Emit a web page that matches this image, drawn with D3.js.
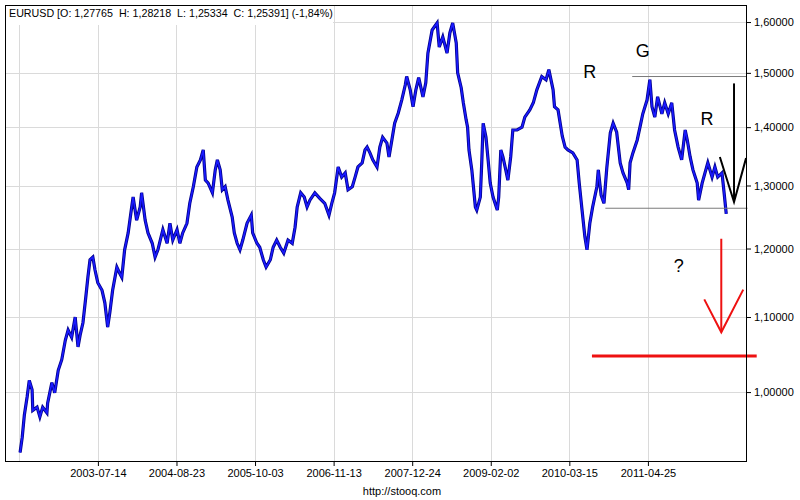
<!DOCTYPE html>
<html>
<head>
<meta charset="utf-8">
<script src="https://cdn.jsdelivr.net/npm/d3@7"></script>
<style>
  body { margin: 0; background: #fff; }
  text { font-family: "Liberation Sans", Arial, sans-serif; }
</style>
</head>
<body>
<div id="chart"></div>
<script>
// decimal year of each sample
const years = [
  2002.43, 2002.46, 2002.49, 2002.53, 2002.56, 2002.60, 2002.61, 2002.67, 2002.71, 2002.75,
  2002.81, 2002.82, 2002.88, 2002.92, 2002.97, 2003.02, 2003.07, 2003.11, 2003.16, 2003.21,
  2003.25, 2003.28, 2003.32, 2003.36, 2003.39, 2003.42, 2003.46, 2003.49, 2003.53, 2003.59,
  2003.63, 2003.67, 2003.70, 2003.74, 2003.80, 2003.84, 2003.87, 2003.91, 2003.96, 2004.01,
  2004.03, 2004.08, 2004.13, 2004.15, 2004.20, 2004.24, 2004.30, 2004.34, 2004.38, 2004.45,
  2004.51, 2004.55, 2004.59, 2004.65, 2004.69, 2004.73, 2004.79, 2004.83, 2004.88, 2004.93,
  2004.98, 2005.02, 2005.05, 2005.09, 2005.15, 2005.19, 2005.22, 2005.26, 2005.29, 2005.33,
  2005.37, 2005.43, 2005.46, 2005.50, 2005.54, 2005.58, 2005.64, 2005.70, 2005.72, 2005.78,
  2005.82, 2005.87, 2005.91, 2005.97, 2006.01, 2006.06, 2006.11, 2006.16, 2006.22, 2006.28,
  2006.32, 2006.35, 2006.40, 2006.45, 2006.49, 2006.53, 2006.60, 2006.67, 2006.74, 2006.80,
  2006.84, 2006.88, 2006.93, 2006.98, 2007.03, 2007.07, 2007.13, 2007.17, 2007.21, 2007.27,
  2007.31, 2007.34, 2007.38, 2007.42, 2007.48, 2007.52, 2007.56, 2007.62, 2007.65, 2007.69,
  2007.73, 2007.78, 2007.83, 2007.88, 2007.90, 2007.95, 2007.99, 2008.03, 2008.07, 2008.13,
  2008.17, 2008.20, 2008.26, 2008.29, 2008.33, 2008.36, 2008.41, 2008.47, 2008.51, 2008.55,
  2008.60, 2008.62, 2008.67, 2008.70, 2008.74, 2008.76, 2008.78, 2008.82, 2008.87, 2008.89,
  2008.94, 2008.96, 2008.98, 2009.02, 2009.05, 2009.08, 2009.12, 2009.18, 2009.20, 2009.23,
  2009.26, 2009.30, 2009.33, 2009.37, 2009.40, 2009.46, 2009.53, 2009.57, 2009.64, 2009.69,
  2009.74, 2009.81,
  2009.87, 2009.91, 2009.97, 2009.99, 2010.04, 2010.10, 2010.14, 2010.18, 2010.25, 2010.31,
  2010.34, 2010.38, 2010.42, 2010.45, 2010.49, 2010.53, 2010.59, 2010.61, 2010.65, 2010.69,
  2010.73, 2010.78, 2010.82, 2010.87, 2010.92, 2010.96, 2011.02, 2011.04, 2011.06, 2011.10,
  2011.16, 2011.20, 2011.24, 2011.30, 2011.34, 2011.37, 2011.41, 2011.45, 2011.51, 2011.55,
  2011.60, 2011.65, 2011.69, 2011.74, 2011.79, 2011.84, 2011.87, 2011.91, 2011.95, 2012.01,
  2012.03, 2012.08, 2012.12, 2012.16, 2012.22, 2012.26, 2012.30, 2012.36, 2012.39, 2012.42
]

// EURUSD close at each sample
const closes = [
  0.926, 0.944, 0.971, 0.994, 1.015, 1.003, 0.977, 0.981, 0.969, 0.981,
  0.974, 0.986, 1.012, 0.999, 1.028, 1.042, 1.068, 1.082, 1.072, 1.100,
  1.059, 1.075, 1.092, 1.128, 1.157, 1.183, 1.187, 1.168, 1.149, 1.138,
  1.120, 1.086, 1.106, 1.138, 1.172, 1.163, 1.157, 1.198, 1.224, 1.265,
  1.281, 1.244, 1.265, 1.288, 1.244, 1.224, 1.208, 1.187, 1.198, 1.229,
  1.208, 1.239, 1.213, 1.229, 1.208, 1.224, 1.239, 1.271, 1.298, 1.331,
  1.343, 1.360, 1.309, 1.304, 1.288, 1.326, 1.343, 1.326, 1.293, 1.298,
  1.276, 1.249, 1.224, 1.208, 1.198, 1.213, 1.239, 1.252, 1.224, 1.208,
  1.202, 1.183, 1.172, 1.183, 1.202, 1.213, 1.202, 1.193, 1.213, 1.208,
  1.233, 1.265, 1.288, 1.281, 1.265, 1.276, 1.288, 1.279, 1.271, 1.252,
  1.271, 1.288, 1.331, 1.314, 1.321, 1.293, 1.298, 1.314, 1.331, 1.338,
  1.360, 1.365, 1.355, 1.343, 1.331, 1.365, 1.382, 1.372, 1.348, 1.377,
  1.407, 1.425, 1.449, 1.477, 1.493, 1.468, 1.437, 1.468, 1.491, 1.455,
  1.481, 1.538, 1.584, 1.590, 1.598, 1.550, 1.570, 1.538, 1.578, 1.598,
  1.558, 1.500, 1.472, 1.444, 1.413, 1.400, 1.360, 1.326, 1.265, 1.260,
  1.281, 1.338, 1.407, 1.382, 1.343, 1.304, 1.281, 1.260, 1.281, 1.360,
  1.348, 1.326, 1.309, 1.348, 1.395, 1.395, 1.400, 1.418, 1.431, 1.444,
  1.468, 1.493,
  1.487, 1.506, 1.468, 1.437, 1.431, 1.384, 1.365, 1.360, 1.355, 1.343,
  1.304, 1.260, 1.218, 1.198, 1.239, 1.265, 1.298, 1.326, 1.284, 1.271,
  1.329, 1.390, 1.407, 1.391, 1.338, 1.321, 1.304, 1.293, 1.338, 1.355,
  1.377, 1.400, 1.424, 1.449, 1.487, 1.437, 1.418, 1.455, 1.424, 1.444,
  1.424, 1.444, 1.395, 1.365, 1.343, 1.395, 1.377, 1.348, 1.326, 1.304,
  1.276, 1.304, 1.321, 1.338, 1.314, 1.331, 1.314, 1.321, 1.288, 1.254
]

const dateTicks = ['2002-06-03', '2003-07-14', '2004-08-23', '2005-10-03', '2006-11-13',
                   '2007-12-24', '2009-02-02', '2010-03-15', '2011-04-25']
const priceTicks = [1.0, 1.1, 1.2, 1.3, 1.4, 1.5, 1.6]

const header = 'EURUSD [O: 1,27765  H: 1,28218  L: 1,25334  C: 1,25391] (-1,84%)'

// hand drawn marks, in [year, price]
const levelLines = [
  [[2011.09, 1.493], [2012.70, 1.493]],
  [[2010.71, 1.263], [2012.72, 1.263]]
]
const blackArrow = [
  [[2012.53, 1.480], [2012.53, 1.273]],
  [[2012.33, 1.348], [2012.53, 1.273], [2012.70, 1.346]]
]
const redArrow = [
  [[2012.35, 1.215], [2012.35, 1.079]],
  [[2012.11, 1.125], [2012.35, 1.079], [2012.66, 1.139]]
]
const redTarget = [[2010.52, 1.047], [2012.85, 1.047]]
const letters = [
  ['R', 2010.49, 1.502],
  ['G', 2011.24, 1.544],
  ['R', 2012.15, 1.416],
  ['?', 2011.75, 1.175]
]

const width = 800, height = 500
const margin = {left: 5, right: 53, top: 5, bottom: 38}

if (years.length !== closes.length) console.log('LENGTH MISMATCH', years.length, closes.length)

function yearToDate(t) {
  const y0 = Math.floor(t)
  const a = new Date(y0, 0, 1), b = new Date(y0 + 1, 0, 1)
  return new Date(a.getTime() + (t - y0) * (b - a))
}

const parse = d3.timeParse('%Y-%m-%d')
const fmtPrice = d => d3.format('.5f')(d).replace('.', ',')

const x = d3.scaleTime()
  .domain([new Date(2002, 2, 21), new Date(2012, 8, 18)])
  .range([margin.left, width - margin.right])

const y = d3.scaleLog()
  .domain([0.915, 1.635])
  .range([height - margin.bottom, margin.top])

const svg = d3.select('#chart')
  .append('svg')
    .attr('width', width)
    .attr('height', height)

// grid
svg.append('g')
  .selectAll('line')
  .data(dateTicks.map(parse))
  .join('line')
    .attr('x1', d => Math.round(x(d)) + 0.5)
    .attr('x2', d => Math.round(x(d)) + 0.5)
    .attr('y1', margin.top)
    .attr('y2', height - margin.bottom)
    .attr('stroke', '#dadada')

svg.append('g')
  .selectAll('line')
  .data(priceTicks)
  .join('line')
    .attr('x1', margin.left)
    .attr('x2', width - margin.right)
    .attr('y1', d => Math.round(y(d)) + 0.5)
    .attr('y2', d => Math.round(y(d)) + 0.5)
    .attr('stroke', '#dadada')

// header box sits over the grid
svg.append('rect')
  .attr('x', margin.left + 1)
  .attr('y', margin.top + 1)
  .attr('width', 327)
  .attr('height', 19)
  .attr('fill', '#fff')

svg.append('text')
  .attr('x', 9)
  .attr('y', 17)
  .attr('font-size', 10.7)
  .attr('xml:space', 'preserve')
  .text(header)

// price line
const data = years.map((t, i) => ({date: yearToDate(t), close: closes[i]}))
const line = d3.line()
  .x(d => x(d.date))
  .y(d => y(d.close))

svg.append('path')
  .datum(data)
  .attr('fill', 'none')
  .attr('stroke', '#00008c')
  .attr('stroke-width', 3.2)
  .attr('stroke-linejoin', 'miter')
  .attr('d', line)

svg.append('path')
  .datum(data)
  .attr('fill', 'none')
  .attr('stroke', '#1a1aff')
  .attr('stroke-width', 1.6)
  .attr('stroke-linejoin', 'miter')
  .attr('d', line)

// annotations
const pline = d3.line()
  .x(d => x(yearToDate(d[0])))
  .y(d => y(d[1]))

svg.append('g')
  .selectAll('path')
  .data(levelLines)
  .join('path')
    .attr('d', pline)
    .attr('fill', 'none')
    .attr('stroke', '#7a7a7a')
    .attr('stroke-width', 1)

svg.append('g')
  .selectAll('path')
  .data(blackArrow)
  .join('path')
    .attr('d', pline)
    .attr('fill', 'none')
    .attr('stroke', '#000')
    .attr('stroke-width', 2)

svg.append('g')
  .selectAll('path')
  .data(redArrow)
  .join('path')
    .attr('d', pline)
    .attr('fill', 'none')
    .attr('stroke', '#ee1111')
    .attr('stroke-width', 2)

svg.append('path')
  .attr('d', pline(redTarget))
  .attr('fill', 'none')
  .attr('stroke', '#ee1111')
  .attr('stroke-width', 3)

svg.append('g')
  .selectAll('text')
  .data(letters)
  .join('text')
    .attr('x', d => x(yearToDate(d[1])))
    .attr('y', d => y(d[2]))
    .attr('dy', '0.36em')
    .attr('text-anchor', 'middle')
    .attr('font-size', 18)
    .text(d => d[0])

// frame
svg.append('rect')
  .attr('x', margin.left + 0.5)
  .attr('y', margin.top + 0.5)
  .attr('width', width - margin.left - margin.right - 1)
  .attr('height', height - margin.top - margin.bottom - 1)
  .attr('fill', 'none')
  .attr('stroke', '#000')

// axes
const xAxis = svg.append('g')
  .attr('transform', `translate(0,${height - margin.bottom})`)
  .call(d3.axisBottom(x)
    .tickValues(dateTicks.slice(1).map(parse))
    .tickFormat(d3.timeFormat('%Y-%m-%d'))
    .tickSize(4)
    .tickPadding(3))
xAxis.select('.domain').remove()

const yAxis = svg.append('g')
  .attr('transform', `translate(${width - margin.right},0)`)
  .call(d3.axisRight(y)
    .tickValues(priceTicks)
    .tickFormat(fmtPrice)
    .tickSize(4)
    .tickPadding(3))
yAxis.select('.domain').remove()

svg.selectAll('.tick text')
  .attr('font-family', '"Liberation Sans", Arial, sans-serif')
  .attr('font-size', 11)
  .attr('fill', '#000')
svg.selectAll('.tick line').attr('stroke', '#000')

svg.append('text')
  .attr('x', 402)
  .attr('y', 495)
  .attr('text-anchor', 'middle')
  .attr('font-size', 11)
  .text('http://stooq.com')
</script>
</body>
</html>
